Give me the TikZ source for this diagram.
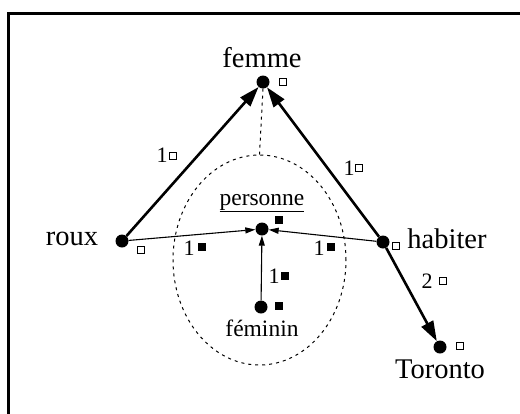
\documentclass[tikz,border=0pt]{standalone}
\usepackage{fontspec}
\setmainfont{Liberation Serif}
\usetikzlibrary{arrows.meta,shapes.geometric}
\begin{document}
\begin{tikzpicture}[x=1pt,y=-1pt,
  dot/.style={circle,fill=black,inner sep=0pt,minimum size=13pt},
  osq/.style={draw=black,line width=0.9pt,fill=white,inner sep=0pt,minimum size=7.5pt},
  fsq/.style={fill=black,inner sep=0pt,minimum size=8pt},
  big/.style={font=\fontsize{28.5}{30}\selectfont,inner sep=0pt},
  mid/.style={font=\fontsize{23.5}{25}\selectfont,inner sep=0pt},
  num/.style={font=\fontsize{22}{23}\selectfont,inner sep=0pt},
  thick arrow/.style={line width=2.6pt,-{Triangle[length=20pt,width=13pt]},shorten >=0pt},
  thin arrow/.style={line width=1.1pt,-{Triangle[length=10pt,width=6pt]}},
  dotted line/.style={line width=1pt,dash pattern=on 3pt off 4pt}]
\useasboundingbox (0,0) rectangle (520,413);
\clip (0,0) rectangle (520,413);
\draw[line width=2.5pt] (8.5,13.5) rectangle (540,440);

% dots
\node[dot] (femme) at (263,82) {};
\node[dot] (roux) at (122,241) {};
\node[dot] (habiter) at (383,242) {};
\node[dot] (personne) at (262,229) {};
\node[dot] (feminin) at (261,307) {};
\node[dot] (toronto) at (440,347) {};

% labels
\node[big] (lfemme) at (262,58) {femme};
\node[big] (lroux) at (72,239) {roux};
\node[big] (lhabiter) at (447,239) {habiter};
\node[big] (ltoronto) at (440,369) {Toronto};
\node[mid] (lpersonne) at (262,203) {\underline{personne}};
\node[mid] (lfeminin) at (262,328) {féminin};

% squares at nodes
\node[osq] (sfemme) at (283,82) {};
\node[osq] (sroux) at (141,250) {};
\node[osq] (shabiter) at (396,246) {};
\node[osq] (storonto) at (460,346) {};
\node[fsq] (spersonne) at (279,220) {};
\node[fsq] (sfeminin) at (279,306) {};

% ellipse and dashed link
\node[draw,dotted line,ellipse,minimum width=173pt,minimum height=210pt,inner sep=0pt] (ell) at (259.5,260) {};
\draw[dotted line] (femme.south) -- (ell.north);

% arrows
\draw[thick arrow] (roux) -- (femme);
\draw[thick arrow] (habiter) -- (femme);
\draw[thick arrow] (habiter) -- (toronto);
\draw[thin arrow] (roux) -- (personne);
\draw[thin arrow] (habiter) -- (personne);
\draw[thin arrow] (feminin) -- (personne);

% edge labels
\node[num] (n1) at (162,155) {1};
\node[osq] (q1) at (173,156) {};
\node[num] (n2) at (349,168) {1};
\node[osq] (q2) at (359,168) {};
\node[num] (n3) at (189,248) {1};
\node[fsq] (q3) at (202,247) {};
\node[num] (n4) at (319,248) {1};
\node[fsq] (q4) at (331,247) {};
\node[num] (n5) at (274,276) {1};
\node[fsq] (q5) at (285,276) {};
\node[num] (n6) at (427,281) {2};
\node[osq] (q6) at (443,281) {};
\end{tikzpicture}
\end{document}
